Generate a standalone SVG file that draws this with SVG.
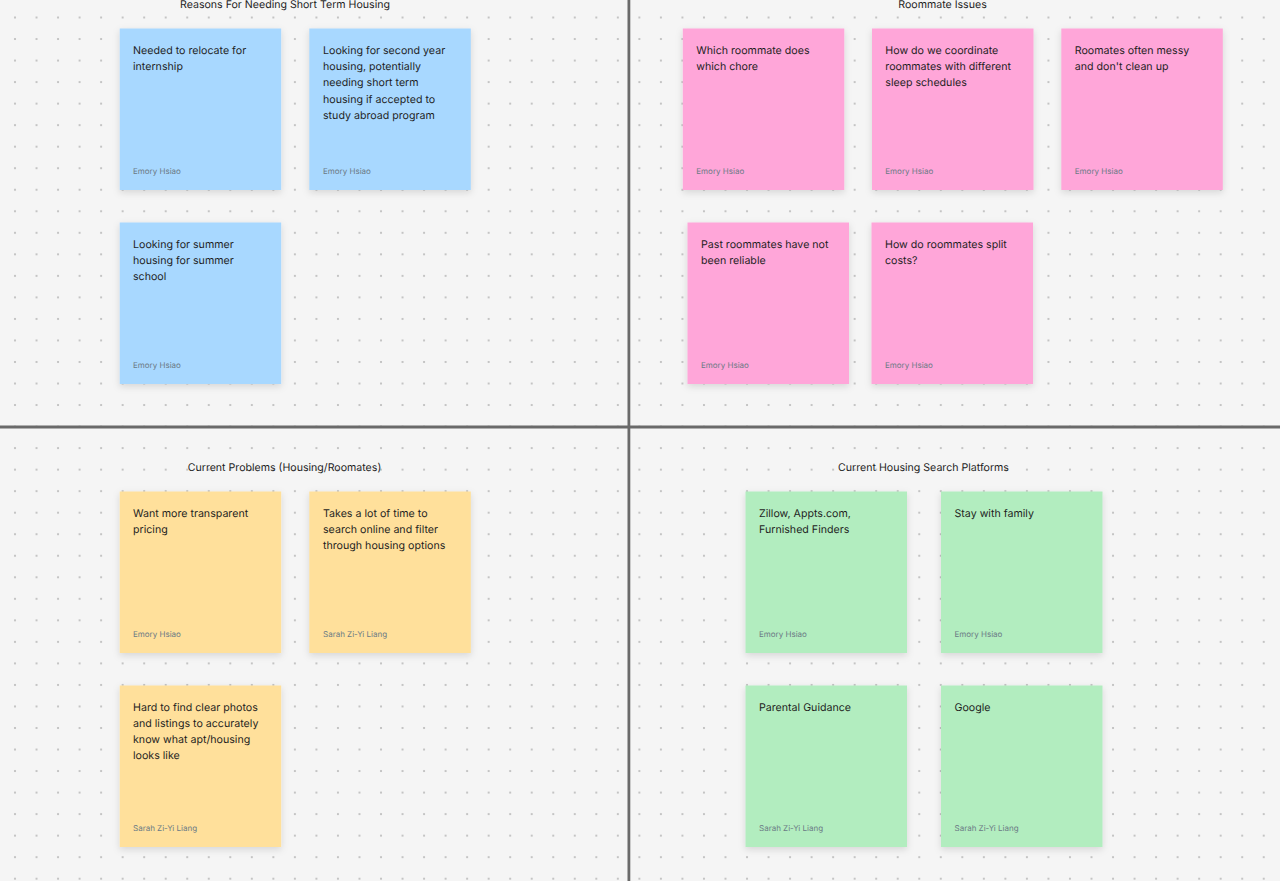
<svg xmlns="http://www.w3.org/2000/svg" width="1280" height="881" viewBox="0 0 1280 881">
<style>
text{font-family:Inter,"Noto Sans","Liberation Sans",sans-serif;text-rendering:geometricPrecision}
.t{font-size:10.65px;fill:#1e1e1e}
.a{font-size:8px;fill:#6b7a85}
.h{font-size:10.6px;fill:#1e1e1e;text-anchor:middle}
.b{fill:#a8d8ff}.p{fill:#ffa6d9}.y{fill:#ffe09b}.g{fill:#b2edbf}
.s{filter:url(#sh)}
.ln{stroke:#6a6a6a;stroke-width:2.800;fill:none}
</style>
<defs>
<pattern id="dots" x="15" y="17.5" width="21.53" height="21.53" patternUnits="userSpaceOnUse"><rect x="-1" y="-1" width="2" height="2" fill="#c4c4c4"/><rect x="20.53" y="-1" width="2" height="2" fill="#c4c4c4"/><rect x="-1" y="20.53" width="2" height="2" fill="#c4c4c4"/><rect x="20.53" y="20.53" width="2" height="2" fill="#c4c4c4"/></pattern>
<filter id="sh" x="-15%" y="-15%" width="130%" height="130%"><feDropShadow dx="0" dy="2.5" stdDeviation="3.5" flood-color="#000" flood-opacity="0.13"/></filter>
</defs>
<rect width="1280" height="881" fill="#f5f5f5"/>
<rect width="1280" height="881" fill="url(#dots)"/>
<g id="connectors"><path class="ln" d="M628.900 0V881"/><path class="ln" d="M0 427H1280"/></g>
<g id="headings">
<text class="h" x="285" y="8">Reasons For Needing Short Term Housing</text>
<text class="h" x="942.500" y="8">Roommate Issues</text>
<text class="h" x="284.500" y="471">Current Problems (Housing/Roomates)</text>
<text class="h" x="923.500" y="471">Current Housing Search Platforms</text>
</g>
<g id="n1"><rect class="b s" x="119.700" y="28.500" width="161.500" height="161.500"/><text class="t" x="133" y="54">Needed to relocate for</text><text class="t" x="133" y="70">internship</text><text class="a" x="133" y="174">Emory Hsiao</text></g>
<g id="n2"><rect class="b s" x="309.300" y="28.500" width="161.500" height="161.500"/><text class="t" x="323" y="54">Looking for second year</text><text class="t" x="323" y="70">housing, potentially</text><text class="t" x="323" y="86">needing short term</text><text class="t" x="323" y="103">housing if accepted to</text><text class="t" x="323" y="119">study abroad program</text><text class="a" x="323" y="174">Emory Hsiao</text></g>
<g id="n3"><rect class="b s" x="119.700" y="222.500" width="161.500" height="161.500"/><text class="t" x="133" y="248">Looking for summer</text><text class="t" x="133" y="264">housing for summer</text><text class="t" x="133" y="280">school</text><text class="a" x="133" y="368">Emory Hsiao</text></g>
<g id="n4"><rect class="p s" x="682.800" y="28.500" width="161.500" height="161.500"/><text class="t" x="696.300" y="54">Which roommate does</text><text class="t" x="696.300" y="70">which chore</text><text class="a" x="696.300" y="174">Emory Hsiao</text></g>
<g id="n5"><rect class="p s" x="872" y="28.500" width="161.500" height="161.500"/><text class="t" x="885.300" y="54">How do we coordinate</text><text class="t" x="885.300" y="70">roommates with different</text><text class="t" x="885.300" y="86">sleep schedules</text><text class="a" x="885.300" y="174">Emory Hsiao</text></g>
<g id="n6"><rect class="p s" x="1061.300" y="28.500" width="161.500" height="161.500"/><text class="t" x="1074.800" y="54">Roomates often messy</text><text class="t" x="1074.800" y="70">and don't clean up</text><text class="a" x="1074.800" y="174">Emory Hsiao</text></g>
<g id="n7"><rect class="p s" x="687.500" y="222.500" width="161.500" height="161.500"/><text class="t" x="701" y="248">Past roommates have not</text><text class="t" x="701" y="264">been reliable</text><text class="a" x="701" y="368">Emory Hsiao</text></g>
<g id="n8"><rect class="p s" x="871.500" y="222.500" width="161.500" height="161.500"/><text class="t" x="885" y="248">How do roommates split</text><text class="t" x="885" y="264">costs?</text><text class="a" x="885" y="368">Emory Hsiao</text></g>
<g id="n9"><rect class="y s" x="119.700" y="491.500" width="161.500" height="161.500"/><text class="t" x="133" y="517">Want more transparent</text><text class="t" x="133" y="533">pricing</text><text class="a" x="133" y="637">Emory Hsiao</text></g>
<g id="n10"><rect class="y s" x="309.300" y="491.500" width="161.500" height="161.500"/><text class="t" x="323" y="517">Takes a lot of time to</text><text class="t" x="323" y="533">search online and filter</text><text class="t" x="323" y="549">through housing options</text><text class="a" x="323" y="637">Sarah Zi-Yi Liang</text></g>
<g id="n11"><rect class="y s" x="119.700" y="685.500" width="161.500" height="161.500"/><text class="t" x="133" y="711">Hard to find clear photos</text><text class="t" x="133" y="727">and listings to accurately</text><text class="t" x="133" y="743">know what apt/housing</text><text class="t" x="133" y="759">looks like</text><text class="a" x="133" y="831">Sarah Zi-Yi Liang</text></g>
<g id="n12"><rect class="g s" x="745.500" y="491.500" width="161.500" height="161.500"/><text class="t" x="759" y="517">Zillow, Appts.com,</text><text class="t" x="759" y="533">Furnished Finders</text><text class="a" x="759" y="637">Emory Hsiao</text></g>
<g id="n13"><rect class="g s" x="941" y="491.500" width="161.500" height="161.500"/><text class="t" x="954.500" y="517">Stay with family</text><text class="a" x="954.500" y="637">Emory Hsiao</text></g>
<g id="n14"><rect class="g s" x="745.500" y="685.500" width="161.500" height="161.500"/><text class="t" x="759" y="711">Parental Guidance</text><text class="a" x="759" y="831">Sarah Zi-Yi Liang</text></g>
<g id="n15"><rect class="g s" x="941" y="685.500" width="161.500" height="161.500"/><text class="t" x="954.500" y="711">Google</text><text class="a" x="954.500" y="831">Sarah Zi-Yi Liang</text></g>
</svg>
